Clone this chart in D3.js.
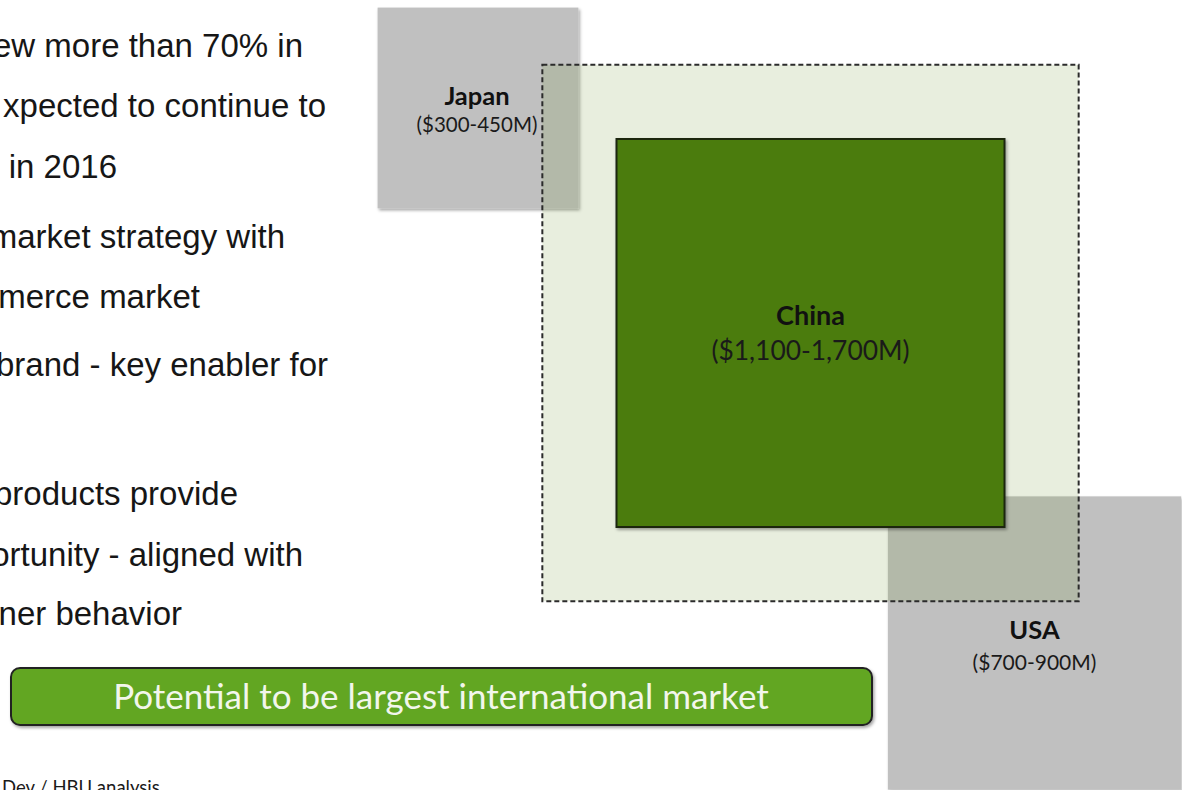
<!DOCTYPE html>
<html>
<head>
<meta charset="utf-8">
<script src="https://cdn.jsdelivr.net/npm/d3@7"></script>
<style>
  html, body { margin: 0; padding: 0; background: #ffffff; overflow: hidden; }
  svg { display: block; }
</style>
</head>
<body>
<svg id="chart" width="1182" height="790"></svg>
<script>
// Market size estimates, $M (low and high of each range)
const markets = ["Japan", "USA", "China"];
const lowValues = [300, 700, 1100];
const highValues = [450, 900, 1700];
const rangeLabels = ["($300-450M)", "($700-900M)", "($1,100-1,700M)"];
// Total addressable potential around China, $M
const potentialValue = 2675;

// Commentary lines (right-hand ends of the bullet text)
const bulletLines = [
  "ew more than 70% in",
  "xpected to continue to",
  "in 2016",
  "market strategy with",
  "merce market",
  "brand - key enabler for",
  "",
  "products provide",
  "ortunity - aligned with",
  "ner behavior"
];
const calloutText = "Potential to be largest international market";
const sourceText = "Dev / HBU analysis";

const svg = d3.select("#chart");

// Drop shadow used by squares and the callout
const defs = svg.append("defs");
const shadow = defs.append("filter").attr("id", "shadow")
  .attr("x", "-10%").attr("y", "-10%").attr("width", "130%").attr("height", "130%");
shadow.append("feDropShadow").attr("dx", 1.5).attr("dy", 2).attr("stdDeviation", 1.8)
  .attr("flood-color", "#000").attr("flood-opacity", 0.35);

// Square area is proportional to the midpoint of each range
const mid = markets.map((m, i) => (lowValues[i] + highValues[i]) / 2);
const side = d3.scaleSqrt().domain([0, 1400]).range([0, 388]);

// Layout: China square centred; Japan top-left, USA bottom-right of it
const cx = 810.5, cy = 333;
const offsets = { Japan: [-332.5, -225], USA: [224, 310], China: [0, 0] };
const data = markets.map((m, i) => ({
  name: m, value: mid[i], label: rangeLabels[i],
  s: side(mid[i]), x: cx + offsets[m][0], y: cy + offsets[m][1]
}));
const byName = Object.fromEntries(data.map(d => [d.name, d]));

const g = svg.append("g");

// Grey markets first
["Japan", "USA"].forEach(n => {
  const d = byName[n];
  g.append("rect")
    .attr("x", d.x - d.s / 2).attr("y", d.y - d.s / 2)
    .attr("width", d.s).attr("height", d.s)
    .attr("fill", "#c0c0c0")
    .attr("filter", "url(#shadow)");
});

// Potential (dashed, translucent)
const ps = side(potentialValue);
g.append("rect")
  .attr("x", cx - ps / 2).attr("y", cy - ps / 2)
  .attr("width", ps).attr("height", ps)
  .attr("fill", "rgb(118,155,60)").attr("fill-opacity", 0.17)
  .attr("stroke", "#2b2b2b").attr("stroke-width", 2)
  .attr("stroke-dasharray", "5,3");

// China square
const c = byName.China;
g.append("rect")
  .attr("x", c.x - c.s / 2).attr("y", c.y - c.s / 2)
  .attr("width", c.s).attr("height", c.s)
  .attr("fill", "#4b7c0a")
  .attr("stroke", "#1b2610").attr("stroke-width", 2)
  .attr("filter", "url(#shadow)");

// Market labels
const labelFont = "Lato, 'Open Sans', sans-serif";
const labelPos = {
  Japan: { dx: -1, nameY: -3, rangeY: 24, nameSize: 25.5, rangeSize: 20.5 },
  USA:   { dx: 0,  nameY: -4, rangeY: 27, nameSize: 25.5, rangeSize: 21 },
  China: { dx: 0,  nameY: -8, rangeY: 27, nameSize: 27, rangeSize: 26.4 }
};
data.forEach(d => {
  const p = labelPos[d.name];
  g.append("text")
    .attr("x", d.x + p.dx).attr("y", d.y + p.nameY)
    .attr("text-anchor", "middle")
    .attr("font-family", labelFont).attr("font-weight", 700)
    .attr("font-size", p.nameSize).attr("fill", "#111")
    .text(d.name);
  g.append("text")
    .attr("x", d.x + p.dx).attr("y", d.y + p.rangeY)
    .attr("text-anchor", "middle")
    .attr("font-family", labelFont)
    .attr("font-size", p.rangeSize).attr("fill", "#1a1a1a")
    .text(d.label);
});

// Bullet text (right-aligned ends, left side runs off the page)
const lineEnds = [303, 326, 117, 285, 200, 328, 0, 238, 303, 182];
const lineBase = [57, 117, 178, 248, 308, 376, 437, 505, 566, 625];
svg.append("g").selectAll("text")
  .data(bulletLines)
  .join("text")
  .attr("x", (d, i) => lineEnds[i])
  .attr("y", (d, i) => lineBase[i])
  .attr("text-anchor", "end")
  .attr("font-family", "'Liberation Sans', Arial, sans-serif")
  .attr("font-size", 33)
  .attr("fill", "#161616")
  .text(d => d);

// Callout pill
const pill = svg.append("g");
pill.append("rect")
  .attr("x", 11).attr("y", 668).attr("width", 861).attr("height", 57)
  .attr("rx", 9).attr("ry", 9)
  .attr("fill", "#62a623")
  .attr("stroke", "#222").attr("stroke-width", 2)
  .attr("filter", "url(#shadow)");
pill.append("text")
  .attr("x", 441).attr("y", 709)
  .attr("text-anchor", "middle")
  .attr("font-family", labelFont)
  .attr("font-size", 35)
  .attr("fill", "#f2f6ec")
  .text(calloutText);

// Source note
svg.append("text")
  .attr("x", 2).attr("y", 794)
  .attr("font-family", labelFont)
  .attr("font-size", 18.5)
  .attr("fill", "#1a1a1a")
  .text(sourceText);
</script>
</body>
</html>
